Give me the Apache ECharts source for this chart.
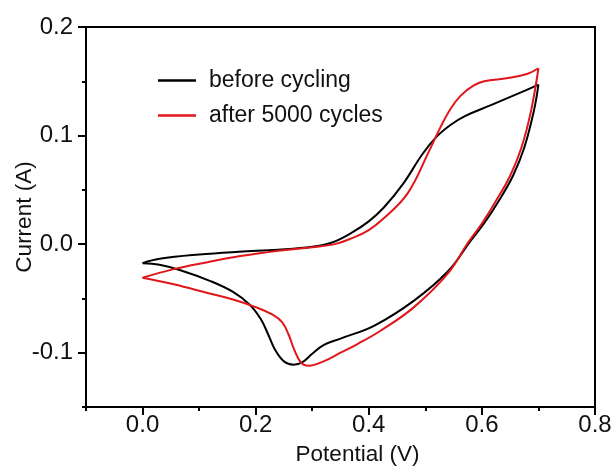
<!DOCTYPE html>
<html>
<head>
<meta charset="utf-8">
<script src="https://cdn.jsdelivr.net/npm/echarts@6/dist/echarts.min.js"></script>
<style>html,body{margin:0;padding:0;background:#fff}#c{width:616px;height:469px}</style>
</head>
<body>
<div id="c"></div>
<script>
// Series names
const seriesNames = ['before cycling', 'after 5000 cycles'];
// Tick labels
const xTickLabels = [0, 0.2, 0.4, 0.6, 0.8];
const yTickLabels = [-0.1, 0, 0.1, 0.2];

// before cycling: anodic sweep (0 -> 0.7 V)
const beforeAnodic = [[0,-0.0175],[0.03,-0.0135],[0.1,-0.0095],[0.17,-0.007],[0.24,-0.0052],[0.3,-0.0025],[0.335,0.0015],[0.368,0.010],[0.4,0.021],[0.427,0.034],[0.46,0.055],[0.495,0.083],[0.52,0.099],[0.545,0.110],[0.57,0.118],[0.616,0.128],[0.67,0.140],[0.70,0.147]];
// before cycling: cathodic sweep (0.7 -> 0 V)
const beforeCathodic = [[0.70,0.147],[0.692,0.123],[0.675,0.089],[0.655,0.063],[0.63,0.040],[0.605,0.020],[0.58,0.003],[0.54,-0.025],[0.48,-0.052],[0.41,-0.075],[0.35,-0.087],[0.32,-0.093],[0.3,-0.101],[0.282,-0.109],[0.267,-0.111],[0.25,-0.108],[0.234,-0.097],[0.222,-0.083],[0.209,-0.069],[0.19,-0.056],[0.16,-0.044],[0.12,-0.034],[0.067,-0.024],[0.03,-0.019],[0,-0.0175]];
// after 5000 cycles: anodic sweep
const afterAnodic = [[0,-0.031],[0.055,-0.023],[0.115,-0.0166],[0.173,-0.011],[0.244,-0.0058],[0.3,-0.0028],[0.34,0.0],[0.37,0.0055],[0.4,0.013],[0.427,0.024],[0.469,0.047],[0.506,0.085],[0.527,0.108],[0.545,0.125],[0.563,0.137],[0.585,0.146],[0.604,0.150],[0.646,0.153],[0.681,0.157],[0.70,0.162]];
// after 5000 cycles: cathodic sweep
const afterCathodic = [[0.70,0.162],[0.687,0.123],[0.67,0.089],[0.65,0.063],[0.625,0.040],[0.6,0.019],[0.575,0.001],[0.54,-0.027],[0.48,-0.058],[0.42,-0.080],[0.38,-0.092],[0.35,-0.100],[0.32,-0.108],[0.294,-0.112],[0.28,-0.109],[0.268,-0.097],[0.258,-0.083],[0.247,-0.072],[0.23,-0.065],[0.2,-0.058],[0.16,-0.051],[0.115,-0.045],[0.055,-0.037],[0,-0.031]];

const FONT = '"Liberation Sans", Arial, sans-serif';
const BLACK = '#000000';
const RED = '#e0161b';

const chart = echarts.init(document.getElementById('c'), null, {renderer: 'canvas'});

function lineSeries(name, data, color) {
  return {
    name: name, type: 'line', data: data, xAxisIndex: 0, yAxisIndex: 0,
    symbol: 'none', smooth: 0.4,
    lineStyle: {color: color, width: 2},
    itemStyle: {color: color},
    z: 5
  };
}

const xBase = {type: 'value', min: -0.1, max: 0.8, interval: 0.1, position: 'bottom', splitLine: {show: false}};
const yBase = {type: 'value', min: -0.15, max: 0.2, interval: 0.05, position: 'left', splitLine: {show: false}};

chart.setOption({
  animation: false,
  backgroundColor: '#ffffff',
  grid: {left: 86, right: 21, top: 27, bottom: 62, containLabel: false, outerBoundsMode: 'none', show: true, borderColor: BLACK, borderWidth: 2, backgroundColor: 'transparent'},
  legend: {
    data: seriesNames,
    orient: 'vertical', left: 153, top: 64,
    icon: 'rect', itemWidth: 38, itemHeight: 2.5, itemGap: 12,
    textStyle: {fontFamily: FONT, fontSize: 23, color: '#111', padding: [0, 0, 0, 8]}
  },
  xAxis: [
    Object.assign({}, xBase, {
      name: 'Potential (V)', nameLocation: 'middle', nameGap: 36, nameMoveOverlap: false,
      nameTextStyle: {fontFamily: FONT, fontSize: 22.5, color: '#111', padding: [0, 0, 0, 34]},
      axisLine: {show: true, onZero: false, lineStyle: {color: BLACK, width: 2}},
      axisTick: {show: true, inside: false, length: 4, lineStyle: {color: BLACK, width: 2}},
      axisLabel: {customValues: xTickLabels, margin: 6, fontFamily: FONT, fontSize: 24, color: '#111', formatter: v => v.toFixed(1)}
    }),
    Object.assign({}, xBase, {
      axisLine: {show: false, onZero: false},
      axisTick: {show: true, inside: false, length: 8, customValues: xTickLabels, lineStyle: {color: BLACK, width: 2}},
      axisLabel: {show: false}
    })
  ],
  yAxis: [
    Object.assign({}, yBase, {
      name: 'Current (A)', nameLocation: 'middle', nameGap: 50, nameMoveOverlap: false,
      nameTextStyle: {fontFamily: FONT, fontSize: 22.5, color: '#111'},
      axisLine: {show: true, onZero: false, lineStyle: {color: BLACK, width: 2}},
      axisTick: {show: true, inside: false, length: 4, lineStyle: {color: BLACK, width: 2}},
      axisLabel: {customValues: yTickLabels, margin: 13, fontFamily: FONT, fontSize: 24, color: '#111', formatter: v => v.toFixed(1)}
    }),
    Object.assign({}, yBase, {
      axisLine: {show: false, onZero: false},
      axisTick: {show: true, inside: false, length: 8, customValues: yTickLabels, lineStyle: {color: BLACK, width: 2}},
      axisLabel: {show: false}
    })
  ],
  series: [
    lineSeries(seriesNames[0], beforeAnodic, BLACK),
    lineSeries(seriesNames[0], beforeCathodic, BLACK),
    lineSeries(seriesNames[1], afterAnodic, RED),
    lineSeries(seriesNames[1], afterCathodic, RED)
  ]
});
</script>
</body>
</html>
